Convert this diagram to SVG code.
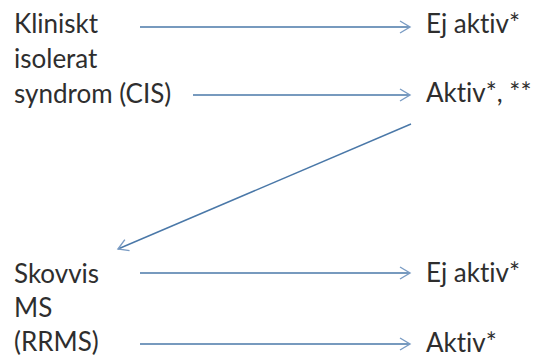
<svg xmlns="http://www.w3.org/2000/svg" width="546" height="358" viewBox="0 0 546 358">
<style>
text{font-family:Lato,"Open Sans","Liberation Sans",sans-serif;font-size:26px;fill:#2e2e2e;font-variant-ligatures:none;font-feature-settings:"liga" 0}
.c{stroke:#4a78a8;stroke-width:1.4;fill:none}
</style>
<defs>
<marker id="ah" viewBox="0 0 14 14" refX="12" refY="7" markerWidth="14" markerHeight="14" markerUnits="userSpaceOnUse" orient="auto">
<path d="M2,1 L12,7 L2,13" fill="none" stroke="#7a9cc4" stroke-width="1.4"/>
</marker>
</defs>
<rect width="546" height="358" fill="#fff"/>
<g id="cis">
<text x="14" y="33">Kliniskt</text>
<text x="14" y="68">isolerat</text>
<text x="14" y="103">syndrom (CIS)</text>
</g>
<g id="cis-ej">
<text x="426" y="33">Ej aktiv*</text>
</g>
<g id="cis-aktiv">
<text x="426" y="102">Aktiv*, **</text>
</g>
<g id="rrms">
<text x="14" y="283">Skovvis</text>
<text x="14" y="317">MS</text>
<text x="14" y="351">(RRMS)</text>
</g>
<g id="rrms-ej">
<text x="426" y="282">Ej aktiv*</text>
</g>
<g id="rrms-aktiv">
<text x="426" y="352">Aktiv*</text>
</g>
<g id="connectors">
<line class="c" x1="140" y1="27" x2="410" y2="27" marker-end="url(#ah)"/>
<line class="c" x1="193" y1="95" x2="410" y2="95" marker-end="url(#ah)"/>
<line class="c" x1="411" y1="124" x2="118" y2="249" marker-end="url(#ah)"/>
<line class="c" x1="140" y1="273" x2="410" y2="273" marker-end="url(#ah)"/>
<line class="c" x1="140" y1="344" x2="410" y2="344" marker-end="url(#ah)"/>
</g>
</svg>
